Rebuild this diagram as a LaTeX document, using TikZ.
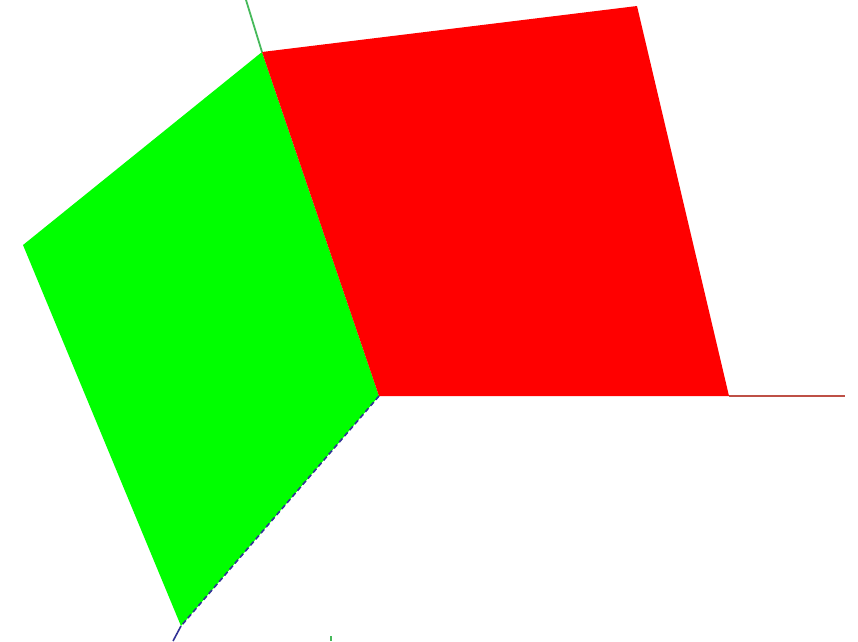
\documentclass[tikz,border=0pt]{standalone}
\usepackage{xcolor}
\usepackage{tikz}
\definecolor{myred}{RGB}{255, 0, 0}
\definecolor{mygreen}{RGB}{0, 255, 0}
\definecolor{axisred}{RGB}{190, 80, 70}
\definecolor{axisgreen}{RGB}{70, 185, 90}
\definecolor{axisblue}{RGB}{50, 50, 150}

\begin{document}
\begin{tikzpicture}[x=1pt, y=-1pt]
    \useasboundingbox (0,0) rectangle (858,641);

    \coordinate (o) at (379,396);
    \coordinate (top) at (262,52);
    \coordinate (gl) at (23,245);
    \coordinate (gb) at (181,626);
    \coordinate (rt) at (637,6);
    \coordinate (rr) at (729,396);

    % Faces
    \fill[mygreen] (top) -- (gl) -- (gb) -- (o) -- cycle;
    \fill[myred] (top) -- (rt) -- (rr) -- (o) -- cycle;

    % Axes
    \coordinate (xend) at (845,396);
    \coordinate (yend) at (246,0);
    \coordinate (zend) at (173,641);
    \draw[axisred, line width=1.8pt] (rr) -- (xend);
    \draw[axisgreen, line width=1.8pt] (top) -- (yend);
    \draw[axisblue, line width=1.6pt, dashed, dash pattern=on 5pt off 3pt] (o) -- (gb);
    \draw[axisblue, line width=1.6pt] (gb) -- (zend);

    % Tick at the lower edge
    \draw[axisgreen, line width=2.2pt] (331,636) -- (331,641);
\end{tikzpicture}
\end{document}
